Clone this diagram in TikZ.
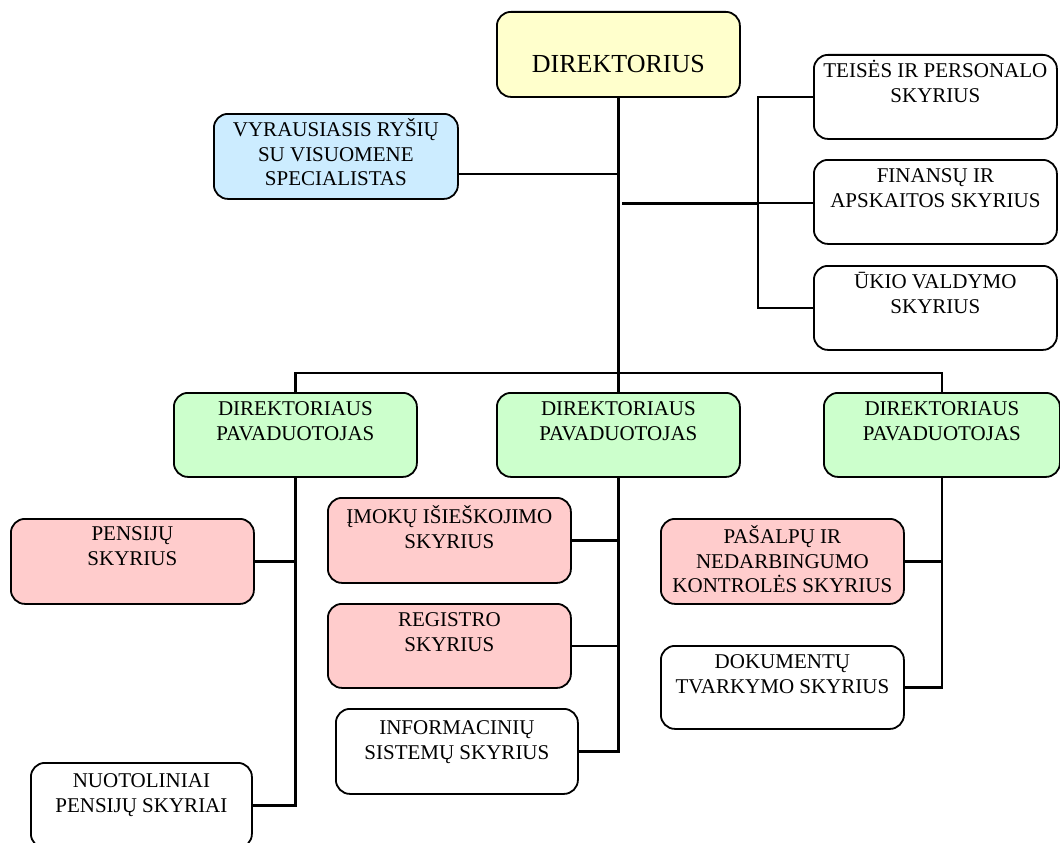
\documentclass[tikz,border=0pt]{standalone}
\usepackage{fontspec}
\setmainfont{Liberation Serif}
\definecolor{dirfill}{HTML}{FFFFCC}
\definecolor{prfill}{HTML}{CCECFF}
\definecolor{depfill}{HTML}{CCFFCC}
\definecolor{divfill}{HTML}{FFCCCC}
% box contents: [first baseline]{width}{height}{lines}
\newcommand{\cell}[4][23]{\parbox[c][#3pt][t]{#2pt}{\centering\fontsize{21}{24.5}\selectfont\rule{0pt}{#1pt}#4\par}}
\tikzset{
  box/.style={draw, line width=1.8pt, rounded corners=14pt, inner sep=0pt, anchor=north west, fill=white},
  conn/.style={line width=2.2pt},
  trunk/.style={line width=3pt},
}
\begin{document}
\begin{tikzpicture}[x=1pt, y=-1pt]
\useasboundingbox (0,0) rectangle (1060,843);

% director and staff
\node[box, fill=dirfill] (dir) at (496,11)
  {\parbox[c][85pt][t]{243pt}{\centering\fontsize{26}{30}\selectfont\rule{0pt}{61pt}DIREKTORIUS\par}};
\node[box, fill=prfill] (vyr) at (213,113) {\cell{244}{85}{VYRAUSIASIS RYŠIŲ\\SU VISUOMENE\\SPECIALISTAS}};

% divisions under the director
\node[box] (teis) at (813,54)  {\cell{243}{84}{TEISĖS IR PERSONALO\\SKYRIUS}};
\node[box] (fin)  at (813,159) {\cell{243}{84}{FINANSŲ IR\\APSKAITOS SKYRIUS}};
\node[box] (ukio) at (813,265) {\cell{243}{84}{ŪKIO VALDYMO\\SKYRIUS}};

% deputies
\node[box, fill=depfill] (dep1) at (173,392) {\cell{243}{84}{DIREKTORIAUS\\PAVADUOTOJAS}};
\node[box, fill=depfill] (dep2) at (496,392) {\cell{243}{84}{DIREKTORIAUS\\PAVADUOTOJAS}};
\node[box, fill=depfill] (dep3) at (823,392) {\cell{236}{84}{DIREKTORIAUS\\PAVADUOTOJAS}};

% first deputy's units
\node[box, fill=divfill] (pens) at (10,518)  {\cell[22]{243}{85}{PENSIJŲ\\SKYRIUS}};
\node[box] (nuot) at (30,762) {\cell[25]{221}{85}{NUOTOLINIAI\\PENSIJŲ SKYRIAI}};

% second deputy's units
\node[box, fill=divfill] (imok) at (327,497) {\cell[26]{243}{85}{ĮMOKŲ IŠIEŠKOJIMO\\SKYRIUS}};
\node[box, fill=divfill] (reg)  at (327,603) {\cell{243}{84}{REGISTRO\\SKYRIUS}};
\node[box] (inf) at (335,708) {\cell[26]{242}{85}{INFORMACINIŲ\\SISTEMŲ SKYRIUS}};

% third deputy's units
\node[box, fill=divfill] (pas) at (660,518) {\cell[25]{243}{85}{PAŠALPŲ IR\\NEDARBINGUMO\\KONTROLĖS SKYRIUS}};
\node[box] (dok) at (660,645) {\cell{243}{83}{DOKUMENTŲ\\TVARKYMO SKYRIUS}};

% junction points
\coordinate (bus) at (617.5,373);
\coordinate (prJ) at (617.5,174);
\coordinate (finJ) at (622,203);
\coordinate (brk) at (758,203);

% director trunk and staff link
\draw[trunk] (dir.south) -- (dep2.north);
\draw[conn] (prJ -| vyr.east) -- (prJ);

% bracket to the divisions
\draw[trunk] (finJ) -- (brk);
\draw[conn] (brk) -- (brk -| fin.west);
\draw[conn] (teis.west) -| (brk) |- (ukio.west);

% bus to the deputies
\draw[conn] (dep1.north) |- (bus) -| (dep3.north);

% first deputy
\draw[conn] (dep1.south) |- (nuot.east);
\draw[conn] (pens.east) -- (pens.east -| dep1.south);

% second deputy
\draw[conn] (dep2.south) |- (inf.east);
\draw[conn] (imok.east) -- (imok.east -| dep2.south);
\draw[conn] (reg.east) -- (reg.east -| dep2.south);

% third deputy
\draw[conn] (dep3.south) |- (dok.east);
\draw[conn] (pas.east) -- (pas.east -| dep3.south);
\end{tikzpicture}
\end{document}
